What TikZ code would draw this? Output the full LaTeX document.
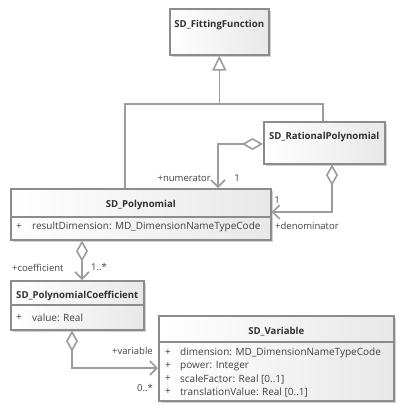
\documentclass[tikz,border=0pt]{standalone}
\usepackage{fontspec}
\setmainfont{Open Sans}
\usetikzlibrary{arrows.meta,calc,shadows}
\definecolor{bordc}{HTML}{8C8C8C}
\definecolor{linec}{HTML}{9C9C9C}
\definecolor{txtc}{HTML}{404040}
\definecolor{hdrc}{HTML}{303030}
\begin{document}
\begin{tikzpicture}[x=1pt,y=-1pt,
  classbox/.style={draw=bordc, line width=1.6pt, left color=white, right color=black!9,
    anchor=north west, inner sep=0pt,
    drop shadow={shadow xshift=2.5pt, shadow yshift=-2.5pt, fill=black!18, opacity=1}},
  sepline/.style={draw=bordc, line width=1.2pt},
  hdr/.style={font=\fontsize{9.6}{11}\selectfont\bfseries, text=hdrc, inner sep=0pt},
  attr/.style={font=\fontsize{10}{11}\selectfont, text=txtc, inner sep=0pt, anchor=west},
  lbl/.style={font=\fontsize{9.5}{11}\selectfont, text=txtc, inner sep=0pt},
  conn/.style={draw=linec, line width=1.6pt},
  gen/.style={conn, -{Triangle[open, length=15pt, width=14pt, fill=white]}},
  agg/.style={conn, {Diamond[open, length=21pt, width=12pt, fill=white]}-{Straight Barb[length=7pt, width=14pt]}},
]
\useasboundingbox (0,0) rectangle (402,413);

% classes
\node[classbox, minimum width=99, minimum height=46] (fit) at (169,8) {};
\node[hdr] (fitT) at ($(fit.north)+(0,17)$) {SD\_FittingFunction};

\node[classbox, minimum width=121, minimum height=42] (rat) at (263,121) {};
\node[hdr] (ratT) at ($(rat.north)+(0,16)$) {SD\_RationalPolynomial};

\node[classbox, minimum width=260, minimum height=51] (poly) at (10,188) {};
\node[hdr] (polyT) at ($(poly.north)+(0,17)$) {SD\_Polynomial};
\draw[sepline] ($(poly.north west)+(0,29)$) -- ($(poly.north east)+(0,29)$);
\node[attr] (polyP) at ($(poly.north west)+(6,39)$) {+};
\node[attr] (polyA) at ($(poly.north west)+(22,39)$) {resultDimension: MD\_DimensionNameTypeCode};

\node[classbox, minimum width=133, minimum height=49] (coef) at (10,280) {};
\node[hdr] (coefT) at ($(coef.north)+(0,16)$) {SD\_PolynomialCoefficient};
\draw[sepline] ($(coef.north west)+(0,25)$) -- ($(coef.north east)+(0,25)$);
\node[attr] (coefP) at ($(coef.north west)+(6,38)$) {+};
\node[attr] (coefA) at ($(coef.north west)+(22,38)$) {value: Real};

\node[classbox, minimum width=235, minimum height=85] (var) at (158,315) {};
\node[hdr] (varT) at ($(var.north)+(0,17)$) {SD\_Variable};
\draw[sepline] ($(var.north west)+(0,27)$) -- ($(var.north east)+(0,27)$);
\node[attr] (varP1) at ($(var.north west)+(7,38)$) {+};
\node[attr] (varA1) at ($(var.north west)+(22,38)$) {dimension: MD\_DimensionNameTypeCode};
\node[attr] (varP2) at ($(var.north west)+(7,51)$) {+};
\node[attr] (varA2) at ($(var.north west)+(22,51)$) {power: Integer};
\node[attr] (varP3) at ($(var.north west)+(7,64)$) {+};
\node[attr] (varA3) at ($(var.north west)+(22,64)$) {scaleFactor: Real [0..1]};
\node[attr] (varP4) at ($(var.north west)+(7,77)$) {+};
\node[attr] (varA4) at ($(var.north west)+(22,77)$) {translationValue: Real [0..1]};

% generalization
\coordinate (j) at (fit.south |- 0,104);
\draw[conn] ($(poly.north west)+(115,0)$) |- (j);
\draw[conn] ($(rat.north west)+(60,0)$) |- (j);
\draw[gen] (j) -- (fit.south);

% numerator
\draw[agg] ($(rat.north west)+(0,23)$) -| ($(poly.north west)+(208,0)$);
\node[lbl, anchor=east] (numL) at (211,178) {+numerator};
\node[lbl] (numM) at (237,178) {1};

% denominator
\draw[agg] ($(rat.south west)+(69,0)$) |- ($(poly.north east)+(0,24)$);
\node[lbl] (denM) at (277,200) {1};
\node[lbl, anchor=west] (denL) at (275,226) {+denominator};

% coefficient
\draw[agg] ($(poly.south west)+(72,0)$) -- ($(coef.north west)+(72,0)$);
\node[lbl, anchor=west] (coefL) at (12,268) {+coefficient};
\node[lbl, anchor=west] (coefM) at (91,267) {1..*};

% variable
\draw[agg] ($(coef.south west)+(62,0)$) |- ($(var.north west)+(0,53)$);
\node[lbl, anchor=east] (varL) at (153,351) {+variable};
\node[lbl, anchor=east] (varM) at (153,388) {0..*};
\end{tikzpicture}
\end{document}
